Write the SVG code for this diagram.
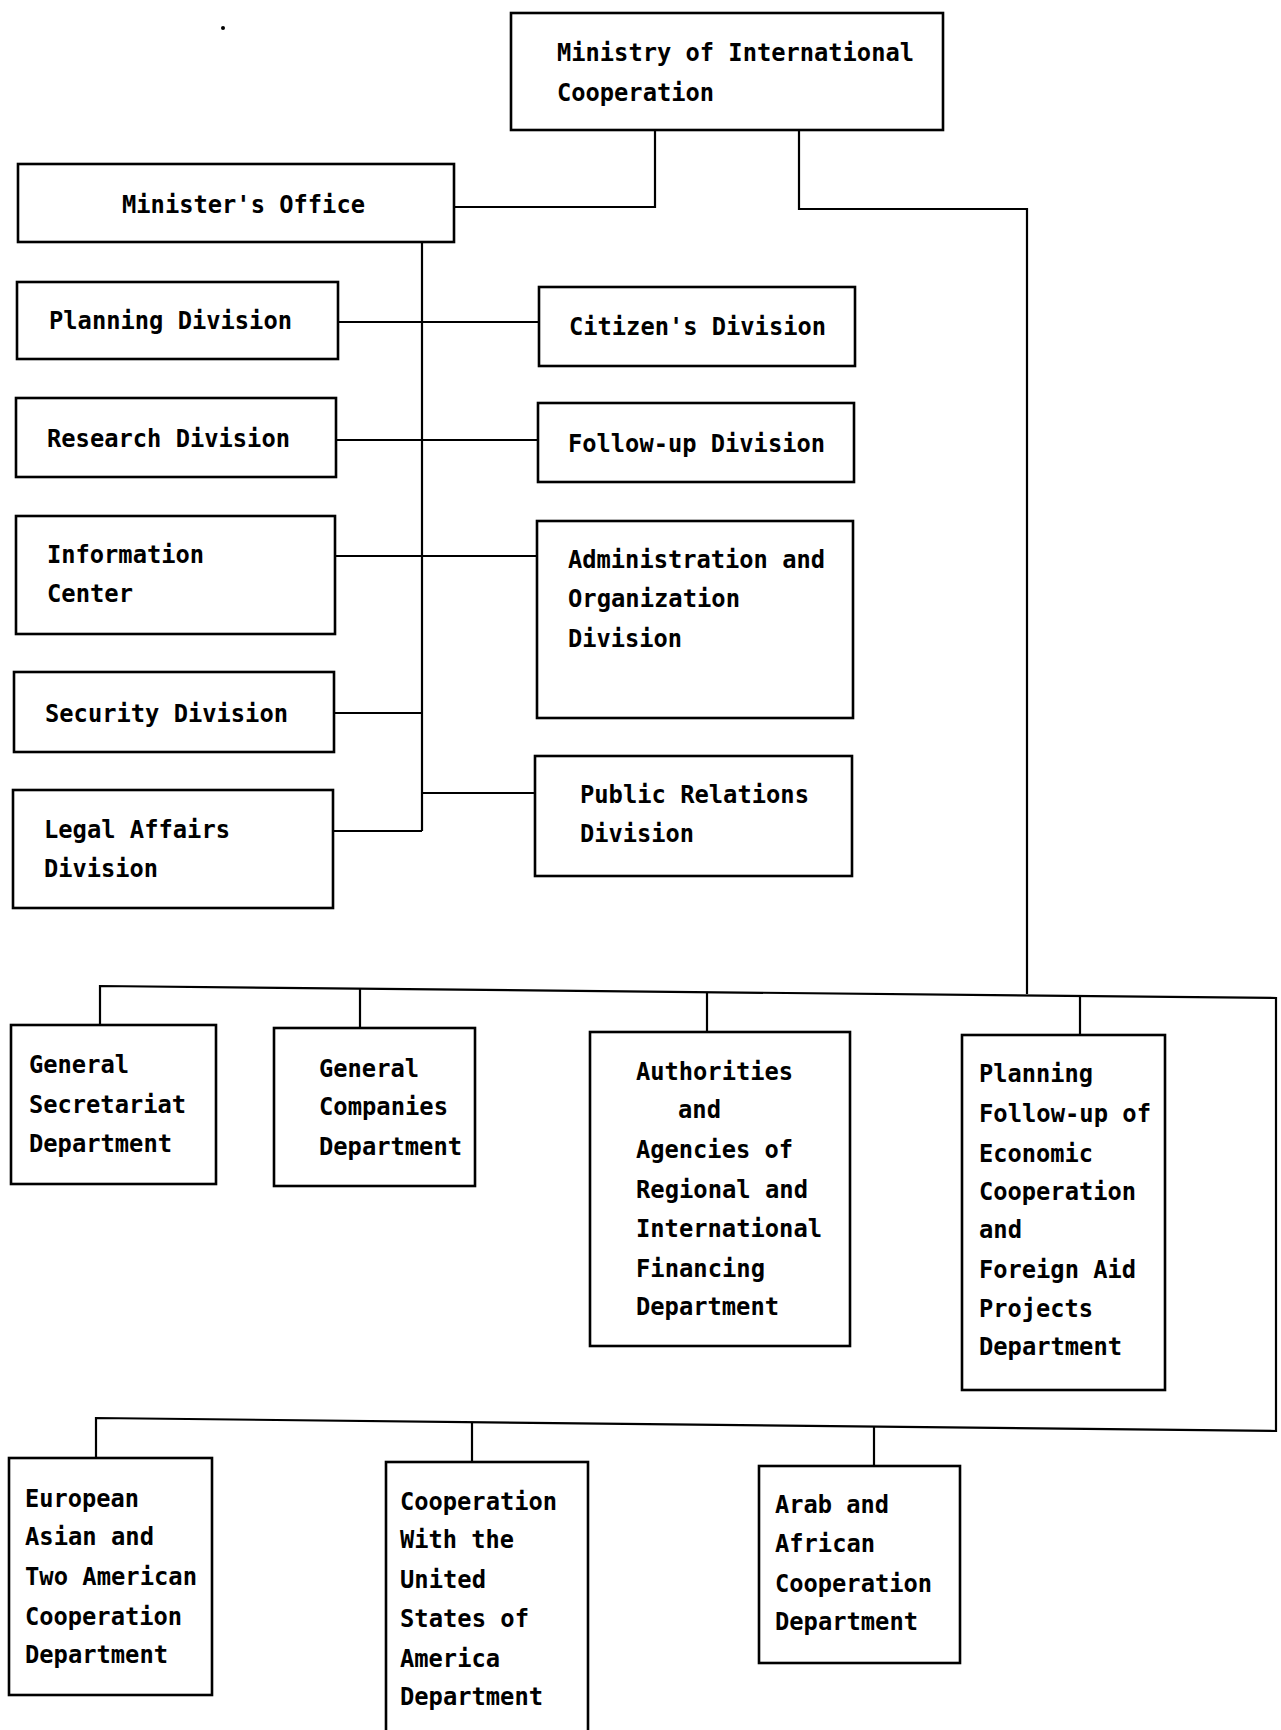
<svg xmlns="http://www.w3.org/2000/svg" width="1281" height="1730" viewBox="0 0 1281 1730">
  <style>
    .box { fill: #fff; stroke: #000; stroke-width: 2.6; }
    .wire { fill: none; stroke: #000; stroke-width: 2.2; stroke-linejoin: miter; }
    text { font-family: "DejaVu Sans Mono", "Liberation Mono", monospace; font-size: 25px; font-weight: bold; fill: #000; }
  </style>
  <rect width="1281" height="1730" fill="#fff"/>

  <!-- connectors -->
  <g id="connectors" class="wire">
    <path d="M655,130 V207 H454"/>
    <path d="M799,131 V209 H1027 V994"/>
    <path d="M422,242 V831"/>
    <path d="M338,322 H539"/>
    <path d="M336,440 H538"/>
    <path d="M335,556 H537"/>
    <path d="M334,713 H422"/>
    <path d="M333,831 H422"/>
    <path d="M422,793 H535"/>
    <path d="M100,1025 V986 L1276,998 V1431 L96,1418 V1458"/>
    <path d="M360,989 V1028"/>
    <path d="M707,992 V1032"/>
    <path d="M1080,995 V1035"/>
    <path d="M472,1422 V1462"/>
    <path d="M874,1426 V1466"/>
  </g>

  <g id="ministry">
    <rect class="box" x="511" y="13" width="432" height="117"/>
    <text x="557" y="61" textLength="357" lengthAdjust="spacingAndGlyphs">Ministry of International</text>
    <text x="557" y="101" textLength="157" lengthAdjust="spacingAndGlyphs">Cooperation</text>
  </g>

  <g id="ministers-office">
    <rect class="box" x="18" y="164" width="436" height="78"/>
    <text x="122" y="213" textLength="243" lengthAdjust="spacingAndGlyphs">Minister's Office</text>
  </g>

  <g id="planning-division">
    <rect class="box" x="17" y="282" width="321" height="77"/>
    <text x="49" y="329" textLength="243" lengthAdjust="spacingAndGlyphs">Planning Division</text>
  </g>

  <g id="citizens-division">
    <rect class="box" x="539" y="287" width="316" height="79"/>
    <text x="569" y="335" textLength="257" lengthAdjust="spacingAndGlyphs">Citizen's Division</text>
  </g>

  <g id="research-division">
    <rect class="box" x="16" y="398" width="320" height="79"/>
    <text x="47" y="447" textLength="243" lengthAdjust="spacingAndGlyphs">Research Division</text>
  </g>

  <g id="follow-up-division">
    <rect class="box" x="538" y="403" width="316" height="79"/>
    <text x="568" y="452" textLength="257" lengthAdjust="spacingAndGlyphs">Follow-up Division</text>
  </g>

  <g id="information-center">
    <rect class="box" x="16" y="516" width="319" height="118"/>
    <text x="47" y="563" textLength="157" lengthAdjust="spacingAndGlyphs">Information</text>
    <text x="47" y="602" textLength="86" lengthAdjust="spacingAndGlyphs">Center</text>
  </g>

  <g id="administration-division">
    <rect class="box" x="537" y="521" width="316" height="197"/>
    <text x="568" y="568" textLength="257" lengthAdjust="spacingAndGlyphs">Administration and</text>
    <text x="568" y="607" textLength="172" lengthAdjust="spacingAndGlyphs">Organization</text>
    <text x="568" y="647" textLength="114" lengthAdjust="spacingAndGlyphs">Division</text>
  </g>

  <g id="security-division">
    <rect class="box" x="14" y="672" width="320" height="80"/>
    <text x="45" y="722" textLength="243" lengthAdjust="spacingAndGlyphs">Security Division</text>
  </g>

  <g id="legal-affairs-division">
    <rect class="box" x="13" y="790" width="320" height="118"/>
    <text x="44" y="838" textLength="186" lengthAdjust="spacingAndGlyphs">Legal Affairs</text>
    <text x="44" y="877" textLength="114" lengthAdjust="spacingAndGlyphs">Division</text>
  </g>

  <g id="public-relations-division">
    <rect class="box" x="535" y="756" width="317" height="120"/>
    <text x="580" y="803" textLength="229" lengthAdjust="spacingAndGlyphs">Public Relations</text>
    <text x="580" y="842" textLength="114" lengthAdjust="spacingAndGlyphs">Division</text>
  </g>

  <g id="general-secretariat">
    <rect class="box" x="11" y="1025" width="205" height="159"/>
    <text x="29" y="1073" textLength="100" lengthAdjust="spacingAndGlyphs">General</text>
    <text x="29" y="1113" textLength="157" lengthAdjust="spacingAndGlyphs">Secretariat</text>
    <text x="29" y="1152" textLength="143" lengthAdjust="spacingAndGlyphs">Department</text>
  </g>

  <g id="general-companies">
    <rect class="box" x="274" y="1028" width="201" height="158"/>
    <text x="319" y="1077" textLength="100" lengthAdjust="spacingAndGlyphs">General</text>
    <text x="319" y="1115" textLength="129" lengthAdjust="spacingAndGlyphs">Companies</text>
    <text x="319" y="1155" textLength="143" lengthAdjust="spacingAndGlyphs">Department</text>
  </g>

  <g id="financing-department">
    <rect class="box" x="590" y="1032" width="260" height="314"/>
    <text x="636" y="1080" textLength="157" lengthAdjust="spacingAndGlyphs">Authorities</text>
    <text x="678" y="1118" textLength="43" lengthAdjust="spacingAndGlyphs">and</text>
    <text x="636" y="1158" textLength="157" lengthAdjust="spacingAndGlyphs">Agencies of</text>
    <text x="636" y="1198" textLength="172" lengthAdjust="spacingAndGlyphs">Regional and</text>
    <text x="636" y="1237" textLength="186" lengthAdjust="spacingAndGlyphs">International</text>
    <text x="636" y="1277" textLength="129" lengthAdjust="spacingAndGlyphs">Financing</text>
    <text x="636" y="1315" textLength="143" lengthAdjust="spacingAndGlyphs">Department</text>
  </g>

  <g id="foreign-aid-department">
    <rect class="box" x="962" y="1035" width="203" height="355"/>
    <text x="979" y="1082" textLength="114" lengthAdjust="spacingAndGlyphs">Planning</text>
    <text x="979" y="1122" textLength="172" lengthAdjust="spacingAndGlyphs">Follow-up of</text>
    <text x="979" y="1162" textLength="114" lengthAdjust="spacingAndGlyphs">Economic</text>
    <text x="979" y="1200" textLength="157" lengthAdjust="spacingAndGlyphs">Cooperation</text>
    <text x="979" y="1238" textLength="43" lengthAdjust="spacingAndGlyphs">and</text>
    <text x="979" y="1278" textLength="157" lengthAdjust="spacingAndGlyphs">Foreign Aid</text>
    <text x="979" y="1317" textLength="114" lengthAdjust="spacingAndGlyphs">Projects</text>
    <text x="979" y="1355" textLength="143" lengthAdjust="spacingAndGlyphs">Department</text>
  </g>

  <g id="european-department">
    <rect class="box" x="9" y="1458" width="203" height="237"/>
    <text x="25" y="1507" textLength="114" lengthAdjust="spacingAndGlyphs">European</text>
    <text x="25" y="1545" textLength="129" lengthAdjust="spacingAndGlyphs">Asian and</text>
    <text x="25" y="1585" textLength="172" lengthAdjust="spacingAndGlyphs">Two American</text>
    <text x="25" y="1625" textLength="157" lengthAdjust="spacingAndGlyphs">Cooperation</text>
    <text x="25" y="1663" textLength="143" lengthAdjust="spacingAndGlyphs">Department</text>
  </g>

  <g id="usa-department">
    <rect class="box" x="386" y="1462" width="202" height="300"/>
    <text x="400" y="1510" textLength="157" lengthAdjust="spacingAndGlyphs">Cooperation</text>
    <text x="400" y="1548" textLength="114" lengthAdjust="spacingAndGlyphs">With the</text>
    <text x="400" y="1588" textLength="86" lengthAdjust="spacingAndGlyphs">United</text>
    <text x="400" y="1627" textLength="129" lengthAdjust="spacingAndGlyphs">States of</text>
    <text x="400" y="1667" textLength="100" lengthAdjust="spacingAndGlyphs">America</text>
    <text x="400" y="1705" textLength="143" lengthAdjust="spacingAndGlyphs">Department</text>
  </g>

  <g id="arab-african-department">
    <rect class="box" x="759" y="1466" width="201" height="197"/>
    <text x="775" y="1513" textLength="114" lengthAdjust="spacingAndGlyphs">Arab and</text>
    <text x="775" y="1552" textLength="100" lengthAdjust="spacingAndGlyphs">African</text>
    <text x="775" y="1592" textLength="157" lengthAdjust="spacingAndGlyphs">Cooperation</text>
    <text x="775" y="1630" textLength="143" lengthAdjust="spacingAndGlyphs">Department</text>
  </g>

  <!-- stray ink mark near the top margin -->
  <circle cx="223" cy="28" r="2" fill="#000"/>
</svg>
